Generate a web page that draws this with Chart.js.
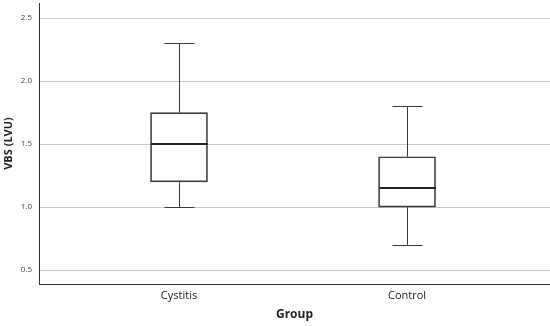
<!DOCTYPE html>
<html><head><meta charset="utf-8">
<script src="https://cdn.jsdelivr.net/npm/chart.js@4"></script>
<style>html,body{margin:0;padding:0;background:#fff}#wrap{width:550px;height:326px}</style>
</head><body><div id="wrap"><canvas id="c"></canvas></div>
<script>
const categories = ['Cystitis', 'Control'];
const whiskerLow = [1.0, 0.7];
const q1 = [1.2, 1.0];
const median = [1.5, 1.15];
const q3 = [1.75, 1.4];
const whiskerHigh = [2.3, 1.8];
const yTicks = [0.5, 1.0, 1.5, 2.0, 2.5];

const boxPlugin = {
  id: 'boxExtras',
  afterDatasetsDraw(chart) {
    const ctx = chart.ctx, xs = chart.scales.x, ys = chart.scales.y;
    ctx.save();
    categories.forEach((c, i) => {
      const cx = Math.round(xs.getPixelForValue(i)) + 0.5;
      const capHalf = 15, boxHalf = 28.5;
      ctx.strokeStyle = '#3a3a3a';
      ctx.lineWidth = 1;
      ctx.beginPath();
      ctx.moveTo(cx, ys.getPixelForValue(q3[i]));
      ctx.lineTo(cx, ys.getPixelForValue(whiskerHigh[i]));
      ctx.moveTo(cx, ys.getPixelForValue(q1[i]));
      ctx.lineTo(cx, ys.getPixelForValue(whiskerLow[i]));
      const yh = Math.round(ys.getPixelForValue(whiskerHigh[i])) + 0.5;
      const yl = Math.round(ys.getPixelForValue(whiskerLow[i])) + 0.5;
      ctx.moveTo(cx - capHalf, yh); ctx.lineTo(cx + capHalf, yh);
      ctx.moveTo(cx - capHalf, yl); ctx.lineTo(cx + capHalf, yl);
      ctx.stroke();
      ctx.lineWidth = 2;
      ctx.strokeStyle = '#222';
      const ym = Math.round(ys.getPixelForValue(median[i]));
      ctx.beginPath();
      ctx.moveTo(cx - boxHalf, ym); ctx.lineTo(cx + boxHalf, ym);
      ctx.stroke();
    });
    ctx.restore();
  }
};

new Chart(document.getElementById('c'), {
  type: 'bar',
  data: {
    datasets: [{
      data: categories.map((c, i) => ({ x: i, y: [q1[i], q3[i]] })),
      backgroundColor: 'rgba(255,255,255,0)',
      borderColor: '#3a3a3a',
      borderWidth: 1,
      borderSkipped: false,
      barThickness: 57
    }]
  },
  options: {
    responsive: true, maintainAspectRatio: false, animation: false,
    layout: { padding: { top: 3, right: 0, left: 0, bottom: 0 } },
    plugins: { legend: { display: false }, tooltip: { enabled: false } },
    scales: {
      x: {
        type: 'linear', min: -0.614, max: 1.627, offset: false,
        afterBuildTicks: s => { s.ticks = categories.map((c, i) => ({ value: i })); },
        afterFit: s => { s.height = 42; s.paddingLeft = 0; s.paddingRight = 0; },
        grid: { display: false, drawTicks: false, offset: false },
        border: { display: true, color: '#333', width: 1 },
        ticks: { callback: v => categories[v], font: { family: 'Open Sans', size: 11 }, color: '#222', padding: 5, maxRotation: 0 },
        title: { display: true, text: 'Group', font: { family: 'Open Sans', size: 12, weight: 'bold' }, color: '#222', padding: { top: 0, bottom: 4 } }
      },
      y: {
        min: 0.39, max: 2.62,
        afterBuildTicks: s => { s.ticks = yTicks.map(v => ({ value: v })); },
        afterFit: s => { s.width = 39; s.paddingTop = 0; s.paddingBottom = 0; },
        grid: { color: '#c8c8c8', drawTicks: false },
        border: { display: true, color: '#333', width: 1 },
        ticks: { callback: v => v.toFixed(1), font: { family: 'Open Sans', size: 8 }, color: '#444', padding: 7 },
        title: { display: true, text: 'VBS (LVU)', font: { family: 'Open Sans', size: 11, weight: 'bold' }, color: '#222', padding: { top: 2, bottom: 0 } }
      }
    }
  },
  plugins: [boxPlugin]
});
</script></body></html>
